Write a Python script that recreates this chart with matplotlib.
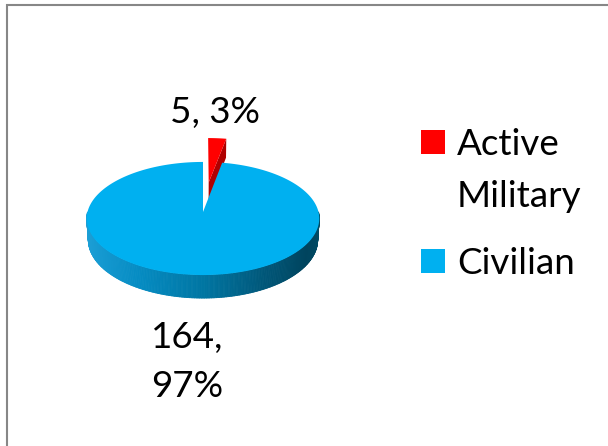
import numpy as np
import matplotlib
matplotlib.use("Agg")
import matplotlib.pyplot as plt
from matplotlib.patches import Polygon, Rectangle
from matplotlib.collections import PolyCollection

categories = ["Active Military", "Civilian"]
legend_labels = ["Active\nMilitary", "Civilian"]
values = [5, 164]
colors = ["#FF0000", "#00B0F0"]
side_colors = ["#B00000", None]
explode = [0.565, 0.0]
label_seps = [", ", ",\n"]

plt.rcParams["font.family"] = ["Lato", "DejaVu Sans"]
FS = 26.5

# simple perspective camera for the tilted pie (units: pie radius = 1)
cx, cy = 203.0, 212.0
focal = 880.0
dist = 7.62
elev = np.radians(28.9)
thick = 0.213
s_e, c_e = np.sin(elev), np.cos(elev)


def project(X, Y, Z):
    zc = dist + Y * c_e - Z * s_e
    u = cx + focal * X / zc
    v = cy - focal * (Y * s_e + Z * c_e) / zc
    return u, v


def arc(ox, oy, z, a0, a1, n=200):
    phi = np.linspace(a0, a1, n)
    return project(ox + np.cos(phi), oy + np.sin(phi), z)


def side_color(cosphi):
    stops = [-1.0, -0.5, 0.0, 0.5, 0.85, 1.0]
    cols = np.array([(30, 160, 215), (5, 140, 195), (0, 118, 163),
                     (0, 86, 120), (0, 68, 94), (0, 74, 100)]) / 255.0
    return tuple(np.interp(cosphi, stops, cols[:, k]) for k in range(3))


fig = plt.figure(figsize=(6.08, 4.46), dpi=100)
ax = fig.add_axes([0, 0, 1, 1])
ax.set_xlim(0, 608)
ax.set_ylim(446, 0)
ax.axis("off")

total = sum(values)
fracs = [v / total for v in values]

# slices run clockwise from 12 o'clock
start = np.pi / 2
slices = []
for frac in fracs:
    end = start - frac * 2 * np.pi
    slices.append((start, end))
    start = end

# exploded back slice first (it sits behind the big one)
a0, a1 = slices[0]
mid = (a0 + a1) / 2
ox, oy = explode[0] * np.cos(mid), explode[0] * np.sin(mid)
# visible cut face on the right edge of the slice
p_top = project(ox + np.cos(a1), oy + np.sin(a1), 0)
p_bot = project(ox + np.cos(a1), oy + np.sin(a1), -thick)
c_top = project(ox, oy, 0)
c_bot = project(ox, oy, -thick)
ax.add_patch(Polygon([c_top, p_top, p_bot, c_bot], closed=True,
                     facecolor=side_colors[0], edgecolor="none"))
u, v = arc(ox, oy, 0, a0, a1)
ax.add_patch(Polygon(np.column_stack([np.r_[c_top[0], u], np.r_[c_top[1], v]]),
                     closed=True, facecolor=colors[0], edgecolor="none"))
red_label_at = project(ox + np.cos(mid), oy + np.sin(mid), 0)

# big slice: front rim with shading, then the top face
b0, b1 = slices[1]
phi = np.linspace(-np.pi, 0, 241)
quads, qcols = [], []
for p, q in zip(phi[:-1], phi[1:]):
    ut0, vt0 = project(np.cos(p), np.sin(p), 0)
    ut1, vt1 = project(np.cos(q), np.sin(q), 0)
    ub0, vb0 = project(np.cos(p), np.sin(p), -thick)
    ub1, vb1 = project(np.cos(q), np.sin(q), -thick)
    quads.append([(ut0, vt0), (ut1, vt1), (ub1, vb1), (ub0, vb0)])
    qcols.append(side_color(np.cos((p + q) / 2)))
ax.add_collection(PolyCollection(quads, facecolors=qcols, edgecolors=qcols,
                                 linewidths=0.6))
center = project(0, 0, 0)
u, v = arc(0, 0, 0, b0, b1, 600)
ax.add_patch(Polygon(np.column_stack([np.r_[center[0], u], np.r_[center[1], v]]),
                     closed=True, facecolor=colors[1], edgecolor="none"))
bmid = (b0 + b1) / 2
civ_label_at = project(np.cos(bmid), np.sin(bmid), -thick)

# data labels
labels = [f"{v}{sep}{round(f * 100)}%" for v, sep, f in zip(values, label_seps, fracs)]
ax.text(red_label_at[0] - 2, red_label_at[1] - 15, labels[0], fontsize=FS,
        ha="center", va="baseline")
ax.text(civ_label_at[0] - 4, civ_label_at[1] + 23, labels[1], fontsize=FS,
        ha="center", va="top", linespacing=1.62)

# legend
leg_y = [129.5, 249.0]
for lab, col, y in zip(legend_labels, colors, leg_y):
    ax.add_patch(Rectangle((421, y), 24, 24, facecolor=col, edgecolor="none"))
    ax.text(457, y - 1.5, lab, fontsize=FS, ha="left", va="top",
            linespacing=1.72)

# chart area frame (top and left edges)
ax.plot([6, 608], [4.5, 4.5], color="#878787", lw=1.5, solid_capstyle="butt")
ax.plot([6.5, 6.5], [4, 446], color="#878787", lw=1.5, solid_capstyle="butt")

fig.savefig("out.png", dpi=100)
